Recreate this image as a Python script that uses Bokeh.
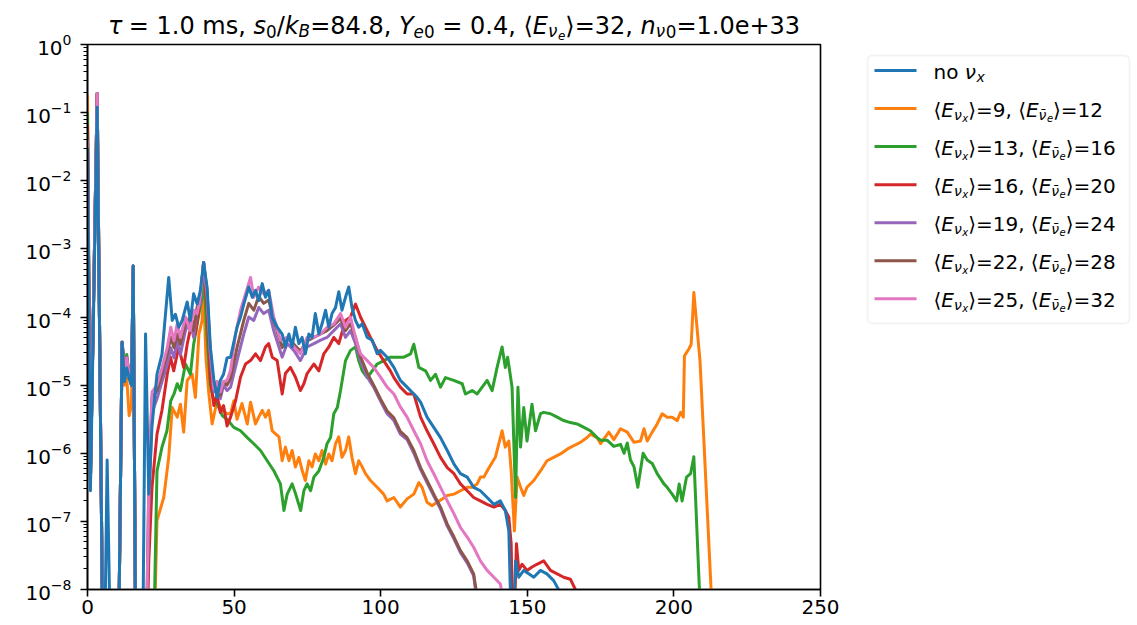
import numpy as np
from bokeh.plotting import figure
from bokeh.layouts import row, column
from bokeh.models import Range1d, FixedTicker, BoxAnnotation, CustomJSTickFormatter
from bokeh.core.properties import value
from bokeh.embed import file_html
from bokeh.resources import INLINE

# ---- data: (x, log10 y); values below 1e-8 fall off the axis ----
blue_pts = [(0,-1.52),(1,-6.55),(3.3,-0.92),(5.5,-10),(6.7,-6.1),(8.3,-10),(10.3,-10),(11.8,-4.37),(12.6,-4.95),(13.4,-4.75),(14.2,-4.9),(15.0,-5.0),(15.6,-3.25),(16.6,-10),(18.6,-10),(19.8,-4.25),(20.9,-6.6),(22.0,-5.6),(23.7,-4.84),(25.4,-4.55),(27.7,-3.42),(28.9,-4.05),(30.0,-3.96),(31.1,-4.15),(32.3,-4.05),(34.0,-3.78),(35.1,-4.05),(36.2,-3.66),(37.4,-3.81),(38.5,-3.61),(39.6,-3.2),(40.8,-3.57),(41.9,-4.44),(43.1,-4.93),(44.2,-5.18),(45.3,-4.93),(46.4,-4.84),(47.6,-4.6),(48.8,-4.59),(51.0,-4.15),(52.2,-4.0),(53.3,-3.81),(55.0,-3.56),(56.2,-3.71),(57.3,-3.61),(58.4,-3.76),(59.6,-3.51),(60.7,-3.71),(61.8,-3.61),(63.0,-4.0),(64.7,-4.15),(66.4,-4.25),(67.5,-4.44),(68.7,-4.25),(69.8,-4.44),(70.9,-4.15),(72.1,-4.39),(73.2,-4.3),(74.3,-4.54),(75.5,-4.25),(76.6,-4.3),(77.7,-3.95),(78.9,-4.25),(80.0,-4.1),(81.2,-3.9),(82.3,-4.15),(83.4,-3.95),(84.6,-3.86),(85.7,-3.63),(86.8,-3.9),(88.0,-3.71),(89.1,-3.56),(90.2,-3.86),(91.4,-4.05),(92.5,-4.15),(93.7,-4.1),(95.4,-4.3),(97.1,-4.34),(98.8,-4.54),(99.9,-4.49),(102.2,-4.59),(104.5,-4.74),(106.7,-4.93),(109.0,-5.03),(111.3,-5.13),(112.4,-5.18),(113.6,-5.25),(115.8,-5.47),(118.1,-5.62),(120.4,-5.77),(122.7,-5.96),(125.0,-6.16),(127.2,-6.3),(129.5,-6.35),(131.7,-6.5),(134.0,-6.55),(136.3,-6.65),(138.6,-6.75),(140.8,-6.7),(142.5,-6.84),(143.7,-7.14),(144.8,-9.0),(146.0,-7.58),(147.1,-7.82),(148.8,-7.72),(150.5,-7.77),(152.2,-7.82),(154.5,-7.72),(156.7,-7.77),(159.0,-7.87),(161.3,-8.05),(162.5,-8.4)]

orange_pts = [(0,-0.74),(1,-6.4),(3.3,-0.72),(5.5,-10),(10.3,-10),(11.8,-4.4),(12.6,-5.0),(13.4,-4.9),(14.2,-5.45),(15.0,-5.3),(15.6,-3.3),(16.6,-10),(22.0,-10),(23.7,-6.99),(26.0,-6.65),(27.7,-6.06),(28.9,-5.33),(30.6,-5.47),(31.7,-5.28),(32.8,-5.69),(34.0,-4.93),(35.7,-4.84),(36.8,-5.18),(38.0,-4.25),(39.1,-4.05),(39.6,-3.6),(40.4,-4.6),(41.4,-5.13),(42.5,-5.57),(44.2,-5.23),(45.9,-5.37),(47.6,-5.42),(48.8,-5.42),(49.9,-5.23),(51.0,-5.5),(52.7,-5.27),(54.5,-5.57),(55.6,-5.25),(57.3,-5.57),(58.4,-5.47),(59.6,-5.37),(60.7,-5.47),(61.8,-5.37),(63.0,-5.67),(65.3,-5.76),(66.4,-6.11),(67.5,-5.91),(68.7,-6.11),(69.8,-5.96),(70.9,-6.2),(72.1,-6.06),(73.2,-6.25),(74.3,-6.4),(75.5,-6.11),(76.6,-6.2),(77.7,-6.01),(78.9,-6.11),(80.0,-5.96),(81.2,-6.16),(82.3,-6.01),(83.4,-6.11),(84.6,-5.86),(85.7,-5.76),(86.8,-6.06),(88.0,-5.96),(89.1,-5.76),(90.2,-6.06),(91.4,-6.3),(92.5,-6.11),(93.7,-6.2),(94.8,-6.3),(96.5,-6.4),(98.8,-6.5),(101.0,-6.6),(102.2,-6.7),(104.5,-6.65),(106.7,-6.79),(109.0,-6.67),(111.3,-6.6),(113.0,-6.43),(114.1,-6.5),(115.8,-6.72),(117.5,-6.77),(119.2,-6.72),(121.0,-6.67),(122.7,-6.62),(125.0,-6.6),(127.2,-6.55),(129.5,-6.5),(131.2,-6.5),(132.9,-6.45),(134.0,-6.35),(135.2,-6.35),(136.3,-6.26),(137.4,-6.18),(139.1,-6.06),(140.3,-5.86),(141.4,-5.67),(142.5,-5.91),(143.7,-5.82),(144.5,-6.26),(145.6,-7.14),(146.5,-6.35),(147.7,-6.5),(148.8,-6.62),(149.9,-6.5),(152.2,-6.4),(154.5,-6.26),(156.7,-6.11),(159.0,-6.06),(161.3,-6.01),(163.6,-5.94),(165.8,-5.89),(168.1,-5.84),(170.4,-5.77),(171.5,-5.72),(173.8,-5.77),(175.0,-5.86),(177.8,-5.69),(179.5,-5.8),(181.8,-5.64),(184.1,-5.69),(186.4,-5.84),(188.6,-5.82),(189.8,-5.64),(190.9,-5.82),(192.6,-5.69),(194.3,-5.57),(196.0,-5.42),(197.7,-5.47),(199.4,-5.47),(201.1,-5.52),(202.3,-5.4),(203.2,-5.47),(203.6,-4.57),(205.1,-4.47),(205.9,-4.4),(206.8,-3.64),(208.9,-4.64),(212.8,-8.1)]

green_pts = [(0,-1.0),(1,-6.4),(3.3,-0.72),(5.5,-10),(10.3,-10),(11.8,-4.37),(12.6,-4.7),(13.4,-4.55),(14.2,-4.9),(15.0,-5.0),(15.6,-3.25),(16.6,-10),(22.0,-10),(23.7,-6.26),(25.4,-5.91),(27.1,-5.67),(28.4,-5.23),(29.5,-5.13),(30.6,-4.98),(31.7,-5.08),(33.4,-4.69),(35.1,-4.84),(36.2,-4.4),(38.0,-3.96),(39.1,-3.71),(39.6,-3.3),(40.8,-4.3),(41.9,-5.0),(43.1,-5.23),(44.5,-5.3),(46.0,-5.45),(47.6,-5.5),(49.9,-5.62),(52.2,-5.67),(54.5,-5.77),(56.7,-5.86),(59.0,-5.96),(61.3,-6.11),(63.6,-6.26),(65.8,-6.45),(67.0,-6.84),(68.1,-6.6),(69.8,-6.45),(71.0,-6.6),(72.7,-6.84),(73.8,-6.55),(74.9,-6.45),(76.1,-6.55),(77.2,-6.35),(78.9,-6.26),(80.6,-6.06),(81.7,-5.86),(82.9,-5.77),(84.0,-5.42),(85.2,-5.33),(86.3,-5.08),(88.0,-4.64),(89.7,-4.49),(91.4,-4.44),(92.5,-4.64),(93.7,-4.79),(95.4,-4.89),(97.1,-4.79),(98.8,-4.69),(101.1,-4.64),(103.3,-4.59),(105.6,-4.59),(107.9,-4.59),(110.2,-4.54),(111.3,-4.4),(113.0,-4.74),(115.3,-4.79),(117.0,-4.93),(118.7,-4.84),(120.4,-5.03),(122.1,-4.89),(124.9,-4.93),(127.8,-4.98),(128.9,-5.13),(131.2,-5.08),(132.9,-5.13),(134.6,-5.03),(136.3,-4.93),(138.0,-5.08),(139.7,-4.74),(141.4,-4.44),(142.5,-4.74),(143.3,-4.59),(144.8,-5.03),(146.0,-6.65),(146.8,-5.03),(147.7,-5.91),(148.8,-5.33),(149.9,-5.82),(151.6,-5.28),(152.8,-5.67),(154.5,-5.42),(155.6,-5.4),(157.9,-5.42),(160.2,-5.47),(162.4,-5.52),(164.7,-5.55),(167.0,-5.57),(169.3,-5.62),(171.5,-5.67),(173.8,-5.77),(175.0,-5.81),(177.3,-5.81),(179.5,-5.9),(181.8,-5.87),(183.0,-6.0),(184.1,-5.85),(185.2,-6.1),(186.4,-6.2),(187.7,-6.5),(189.5,-6.0),(190.9,-6.1),(192.6,-6.15),(194.3,-6.3),(196.6,-6.45),(197.7,-6.5),(199.4,-6.6),(200.9,-6.7),(201.8,-6.45),(202.8,-6.7),(204.3,-6.35),(205.7,-6.3),(206.8,-6.05),(208.9,-8.2)]

red_pts = [(0,-1.19),(1,-6.4),(3.3,-0.72),(5.5,-10),(10.3,-10),(11.8,-4.37),(12.6,-4.85),(13.4,-4.6),(14.2,-4.85),(15.0,-5.0),(15.6,-3.25),(16.6,-10),(19.6,-10),(20.9,-7.58),(22.0,-6.5),(23.7,-5.72),(25.4,-5.37),(27.2,-4.84),(28.3,-4.59),(29.4,-4.79),(31.1,-4.44),(32.8,-4.74),(34.0,-4.4),(35.7,-4.05),(36.8,-4.25),(38.5,-3.71),(39.6,-3.2),(40.8,-3.9),(41.9,-4.9),(43.1,-5.3),(44.2,-5.15),(45.3,-5.4),(46.4,-5.3),(47.6,-5.6),(48.8,-5.47),(50.5,-5.23),(52.2,-4.88),(53.9,-4.69),(55.6,-4.64),(57.3,-4.54),(59.0,-4.64),(60.7,-4.44),(61.8,-4.39),(63.0,-4.59),(64.7,-4.64),(66.4,-5.13),(67.5,-4.83),(69.2,-4.74),(70.9,-4.88),(72.6,-5.08),(73.8,-4.98),(74.9,-4.83),(77.2,-4.69),(78.9,-4.79),(80.6,-4.54),(82.3,-4.44),(84.0,-4.3),(85.7,-4.39),(88.0,-4.05),(89.7,-4.0),(91.4,-3.81),(93.1,-4.0),(94.8,-4.15),(96.5,-4.3),(98.8,-4.49),(101.0,-4.64),(103.3,-4.79),(104.5,-4.89),(106.7,-5.03),(109.0,-5.13),(111.3,-5.13),(113.6,-5.47),(115.8,-5.67),(118.1,-5.86),(120.4,-6.06),(122.7,-6.21),(125.0,-6.3),(127.2,-6.45),(129.5,-6.55),(131.7,-6.65),(134.0,-6.7),(136.3,-6.75),(138.6,-6.79),(140.8,-6.75),(142.5,-6.84),(143.7,-6.94),(144.5,-7.33),(145.2,-9.0),(146.3,-7.33),(147.1,-7.72),(148.2,-7.63),(149.9,-7.72),(151.6,-7.67),(153.3,-7.63),(155.6,-7.58),(157.9,-7.72),(160.2,-7.77),(162.4,-7.82),(164.7,-7.85),(166.4,-8.0),(168.0,-8.3)]

purple_pts = [(0,-1.3),(1,-6.4),(3.3,-0.72),(5.5,-10),(10.3,-10),(11.8,-4.37),(12.6,-4.85),(13.4,-4.6),(14.2,-4.85),(15.0,-5.0),(15.6,-3.25),(16.6,-10),(19.6,-10),(20.9,-6.9),(22.0,-5.4),(23.7,-5.2),(25.4,-4.95),(27.2,-4.7),(28.4,-4.45),(29.5,-4.6),(30.6,-4.35),(31.7,-4.55),(33.4,-4.2),(35.0,-4.05),(36.2,-4.3),(37.4,-3.9),(38.5,-3.8),(39.6,-3.2),(40.8,-3.7),(41.9,-4.6),(43.1,-5.1),(44.2,-5.0),(45.3,-5.2),(46.4,-5.0),(47.6,-5.08),(48.8,-5.03),(51.0,-4.64),(53.3,-4.25),(55.0,-4.0),(56.7,-4.05),(58.4,-3.86),(60.1,-3.95),(61.8,-3.9),(63.5,-4.2),(66.4,-4.59),(68.1,-4.39),(70.4,-4.49),(72.6,-4.64),(74.9,-4.44),(77.2,-4.39),(79.5,-4.34),(81.7,-4.3),(84.0,-4.2),(86.3,-4.1),(88.0,-4.3),(89.7,-4.2),(91.4,-4.39),(93.1,-4.64),(95.4,-4.88),(97.6,-5.03),(99.9,-5.23),(102.2,-5.42),(104.5,-5.52),(106.7,-5.72),(109.0,-5.8),(111.3,-6.0),(113.6,-6.24),(115.8,-6.43),(118.1,-6.63),(120.4,-6.82),(122.7,-7.07),(125.0,-7.26),(127.2,-7.46),(129.5,-7.61),(131.7,-7.8),(133.2,-8.3)]

brown_pts = [(0,-1.3),(1,-6.4),(3.3,-0.72),(5.5,-10),(10.3,-10),(11.8,-4.37),(12.6,-4.85),(13.4,-4.6),(14.2,-4.85),(15.0,-5.0),(15.6,-3.25),(16.6,-10),(19.6,-10),(20.9,-6.5),(22.0,-5.18),(23.7,-5.08),(25.4,-4.84),(27.2,-4.54),(28.4,-4.3),(29.5,-4.45),(30.6,-4.25),(31.7,-4.4),(33.4,-4.1),(35.0,-4.0),(36.2,-4.2),(37.4,-3.85),(38.5,-3.75),(39.6,-3.2),(40.8,-3.65),(41.9,-4.55),(43.1,-5.05),(44.2,-4.95),(45.3,-5.15),(46.4,-4.95),(47.6,-5.0),(48.8,-4.9),(51.0,-4.45),(53.3,-4.05),(55.0,-3.8),(56.7,-3.9),(58.4,-3.7),(60.1,-3.8),(61.8,-3.75),(63.5,-4.05),(66.4,-4.45),(68.1,-4.3),(70.4,-4.4),(72.6,-4.5),(74.9,-4.35),(77.2,-4.3),(79.5,-4.25),(81.7,-4.2),(84.0,-4.12),(86.3,-4.02),(88.0,-4.2),(89.7,-4.1),(91.4,-4.3),(93.1,-4.58),(95.4,-4.82),(97.6,-5.0),(99.9,-5.2),(102.2,-5.38),(104.5,-5.48),(106.7,-5.68),(109.0,-5.77),(111.3,-5.96),(113.6,-6.21),(115.8,-6.4),(118.1,-6.6),(120.4,-6.79),(122.7,-7.04),(125.0,-7.23),(127.2,-7.43),(129.5,-7.58),(131.7,-7.77),(133.6,-8.3)]

pink_pts = [(0,-1.4),(1,-6.4),(3.3,-0.72),(5.5,-10),(10.3,-10),(11.8,-4.37),(12.6,-4.85),(13.4,-4.6),(14.2,-4.85),(15.0,-5.0),(15.6,-3.25),(16.6,-10),(19.6,-10),(20.9,-6.5),(22.0,-5.1),(23.7,-5.0),(25.4,-4.75),(27.2,-4.45),(28.4,-4.15),(29.5,-4.35),(30.6,-4.1),(31.7,-4.3),(33.4,-4.0),(35.0,-4.2),(36.2,-3.9),(37.4,-3.95),(38.5,-3.7),(39.6,-3.2),(40.8,-3.65),(41.9,-4.5),(43.1,-5.05),(44.2,-4.95),(45.3,-5.1),(46.4,-4.95),(47.6,-4.93),(48.8,-4.78),(50.5,-4.25),(52.2,-3.9),(53.9,-3.66),(55.6,-3.42),(56.7,-3.71),(58.4,-3.56),(60.1,-3.66),(61.8,-3.61),(63.5,-4.0),(65.8,-4.34),(68.1,-4.3),(70.4,-4.44),(72.6,-4.54),(74.9,-4.3),(77.2,-4.3),(79.5,-4.25),(81.7,-4.15),(84.0,-4.1),(86.3,-3.95),(88.0,-4.15),(89.7,-4.0),(91.4,-4.3),(93.1,-4.54),(95.4,-4.64),(97.6,-4.74),(99.9,-4.88),(102.2,-5.03),(104.5,-5.13),(106.7,-5.32),(109.0,-5.47),(111.3,-5.67),(113.6,-5.86),(115.8,-6.11),(118.1,-6.3),(120.4,-6.5),(122.7,-6.7),(125.0,-6.89),(127.2,-7.09),(129.5,-7.23),(131.7,-7.38),(134.0,-7.58),(136.3,-7.72),(138.6,-7.82),(140.8,-7.92),(142.5,-8.3)]

x_ticks = [0, 50, 100, 150, 200, 250]
y_decades = list(range(-8, 1))

COLORS = {"blue": "#1f77b4", "orange": "#ff7f0e", "green": "#2ca02c", "red": "#d62728",
          "purple": "#9467bd", "brown": "#8c564b", "pink": "#e377c2"}

def lbl(a, b):
    return [("⟨", 0, False), ("E", 0, True), ("ν", 1, True), ("x", 2, True),
            ("⟩=%s, ⟨" % a, 0, False), ("E", 0, True), ("ν\u0304", 1, True), ("e", 2, True),
            ("⟩=%s" % b, 0, False)]

legend_rows = [
    ("blue", [("no ", 0, False), ("ν", 0, True), ("x", 1, True)]),
    ("orange", lbl("9", "12")),
    ("green", lbl("13", "16")),
    ("red", lbl("16", "20")),
    ("purple", lbl("19", "24")),
    ("brown", lbl("22", "28")),
    ("pink", lbl("25", "32")),
]

title_segs = [("τ", 0, True), (" = 1.0 ms, ", 0, False), ("s", 0, True), ("0", 1, False),
              ("/", 0, False), ("k", 0, True), ("B", 1, True), ("=84.8, ", 0, False),
              ("Y", 0, True), ("e", 1, True), ("0", 1, False), (" = 0.4, ⟨", 0, False),
              ("E", 0, True), ("ν", 1, True), ("e", 2, True), ("⟩=32, ", 0, False),
              ("n", 0, True), ("ν", 1, True), ("0", 1, False), ("=1.0e+33", 0, False)]

FONT = "DejaVu Sans"
PAGE_W, PAGE_H = 1137, 625
FRAME_L, FRAME_R, FRAME_T, FRAME_B = 87, 820, 44, 589   # page pixels
YLAB_W = 79            # left strip carrying the y tick labels
TITLE_H = 42
MAIN_W = 850 - YLAB_W  # main canvas spans page x 79..850
LEG_W = PAGE_W - 850

def no_align(f):
    if "frame_align" in f.properties():
        f.frame_align = False
    return f

def blank_fig(w, h, xr, yr, top=0, bottom=0):
    f = figure(width=w, height=h, x_range=Range1d(*xr), y_range=Range1d(*yr),
               output_backend="svg", toolbar_location=None, min_border=0,
               min_border_top=top, min_border_bottom=bottom,
               x_axis_location=None, y_axis_location=None)
    f.xgrid.visible = False
    f.ygrid.visible = False
    f.outline_line_color = None
    f.background_fill_color = "white"
    f.border_fill_color = "white"
    return no_align(f)

def style_axis(ax):
    ax.axis_line_color = "black"
    ax.axis_line_width = 1.6
    ax.major_tick_line_color = "black"
    ax.major_tick_line_width = 1.6
    ax.major_tick_out = 7
    ax.major_tick_in = 0
    ax.minor_tick_line_color = "black"
    ax.minor_tick_line_width = 1.2
    ax.minor_tick_out = 4
    ax.minor_tick_in = 0
    ax.major_label_text_color = "black"
    ax.major_label_text_font = FONT
    ax.major_label_text_font_size = "20px"

major_y = [10.0 ** d for d in y_decades]
minor_y = [k * 10.0 ** d for d in y_decades[:-1] for k in range(2, 10)]

# ---- y tick-label strip (same log scale, full page height so 10^0 is not cut) ----
yf = figure(width=YLAB_W, height=PAGE_H, x_range=Range1d(0, 1), y_range=Range1d(1e-8, 1),
            y_axis_type="log", output_backend="svg", toolbar_location=None,
            min_border_left=YLAB_W - 1, min_border_right=0,
            min_border_top=FRAME_T, min_border_bottom=PAGE_H - FRAME_B, x_axis_location=None)
no_align(yf)
yf.xgrid.visible = False
yf.ygrid.visible = False
yf.outline_line_color = None
yf.yaxis.ticker = FixedTicker(ticks=major_y, minor_ticks=[])
style_axis(yf.yaxis)
yf.yaxis.axis_line_color = None
yf.yaxis.major_tick_line_color = None
yf.yaxis.major_tick_out = 0
yf.yaxis.minor_tick_out = 0
yf.yaxis.major_label_standoff = 7

# ---- main plot ----
p = figure(width=MAIN_W, height=PAGE_H - TITLE_H, x_range=Range1d(0, 250), y_range=Range1d(1e-8, 1),
           y_axis_type="log", output_backend="svg", toolbar_location=None,
           min_border_left=FRAME_L - YLAB_W, min_border_right=850 - FRAME_R,
           min_border_top=FRAME_T - TITLE_H, min_border_bottom=PAGE_H - FRAME_B)
no_align(p)
p.background_fill_color = "white"
p.border_fill_color = "white"
p.outline_line_color = "black"
p.outline_line_width = 1.6
p.xgrid.visible = False
p.ygrid.visible = False
p.xaxis.ticker = FixedTicker(ticks=x_ticks, minor_ticks=[])
p.yaxis.ticker = FixedTicker(ticks=major_y, minor_ticks=minor_y)
style_axis(p.xaxis)
style_axis(p.yaxis)
p.xaxis.major_label_standoff = 3
p.yaxis.formatter = CustomJSTickFormatter(code="return ''")
p.yaxis.major_label_standoff = 0

order = ["orange", "green", "red", "purple", "brown", "pink", "blue"]
series = {"blue": blue_pts, "orange": orange_pts, "green": green_pts, "red": red_pts,
          "purple": purple_pts, "brown": brown_pts, "pink": pink_pts}
for name in order:
    pts = np.array(series[name], dtype=float)
    p.line(pts[:, 0], 10.0 ** pts[:, 1], line_color=COLORS[name], line_width=3,
           line_join="round")

# ---- rich text (sub/superscripts laid out piecewise) ----
W = {' ': 0.318, '.': 0.318, ',': 0.318, '=': 0.838, '+': 0.838, '/': 0.337, 'm': 0.974,
     's': 0.521, 'n': 0.634, 'o': 0.612, 'e': 0.615, 'x': 0.592, 'k': 0.579, 'E': 0.632,
     'Y': 0.611, 'B': 0.686, 'τ': 0.55, 'ν': 0.592, '⟨': 0.39, '⟩': 0.39, '\u0304': 0.0}
for d in "0123456789":
    W[d] = 0.636
SCALE = [1.0, 0.7, 0.5]
DROP = [0.0, 0.16, 0.27]
BASE_FIX = 0.29   # renderer places alphabetic baseline this many em low

def rich(f, segs, x0, y0, size, center=False):
    widths = [sum(W.get(c, 0.6) for c in t) * size * SCALE[l] for t, l, it in segs]
    x = x0 - sum(widths) / 2 if center else x0
    for (t, l, it), w in zip(segs, widths):
        fs = size * SCALE[l]
        lead = len(t) - len(t.lstrip(" "))
        core = t.strip(" ")
        if core:
            f.text(x=[x + lead * W[" "] * fs], y=[y0 + DROP[l] * size - BASE_FIX * fs],
                   text=[core], text_font=value(FONT), text_font_size=value("%.1fpx" % fs),
                   text_font_style="italic" if it else "normal", text_color="black",
                   text_baseline="alphabetic", text_align="left")
        x += w

# title strip (page coordinates, y downward)
tf = blank_fig(MAIN_W, TITLE_H, (YLAB_W, 850), (TITLE_H, 0))
rich(tf, title_segs, (FRAME_L + FRAME_R) / 2, 32, 24, center=True)

# legend panel (page coordinates, y downward; frame matches the main frame vertically)
lf = blank_fig(LEG_W, PAGE_H, (850, PAGE_W), (FRAME_B, FRAME_T),
               top=FRAME_T, bottom=PAGE_H - FRAME_B)
lf.add_layout(BoxAnnotation(left=867, right=1129, top=55, bottom=323, level="underlay",
                            fill_color="white", fill_alpha=1.0, line_color="#d6d6d6",
                            line_width=1.8, border_radius=5))
for i, (cname, segs) in enumerate(legend_rows):
    yc = 70 + 38.05 * i
    lf.segment(x0=[874], y0=[yc], x1=[916], y1=[yc], line_color=COLORS[cname], line_width=3)
    rich(lf, segs, 933, yc + 7, 20)

layout = row(yf, column(tf, p), lf)
open("out.html", "w").write(file_html(layout, INLINE))
